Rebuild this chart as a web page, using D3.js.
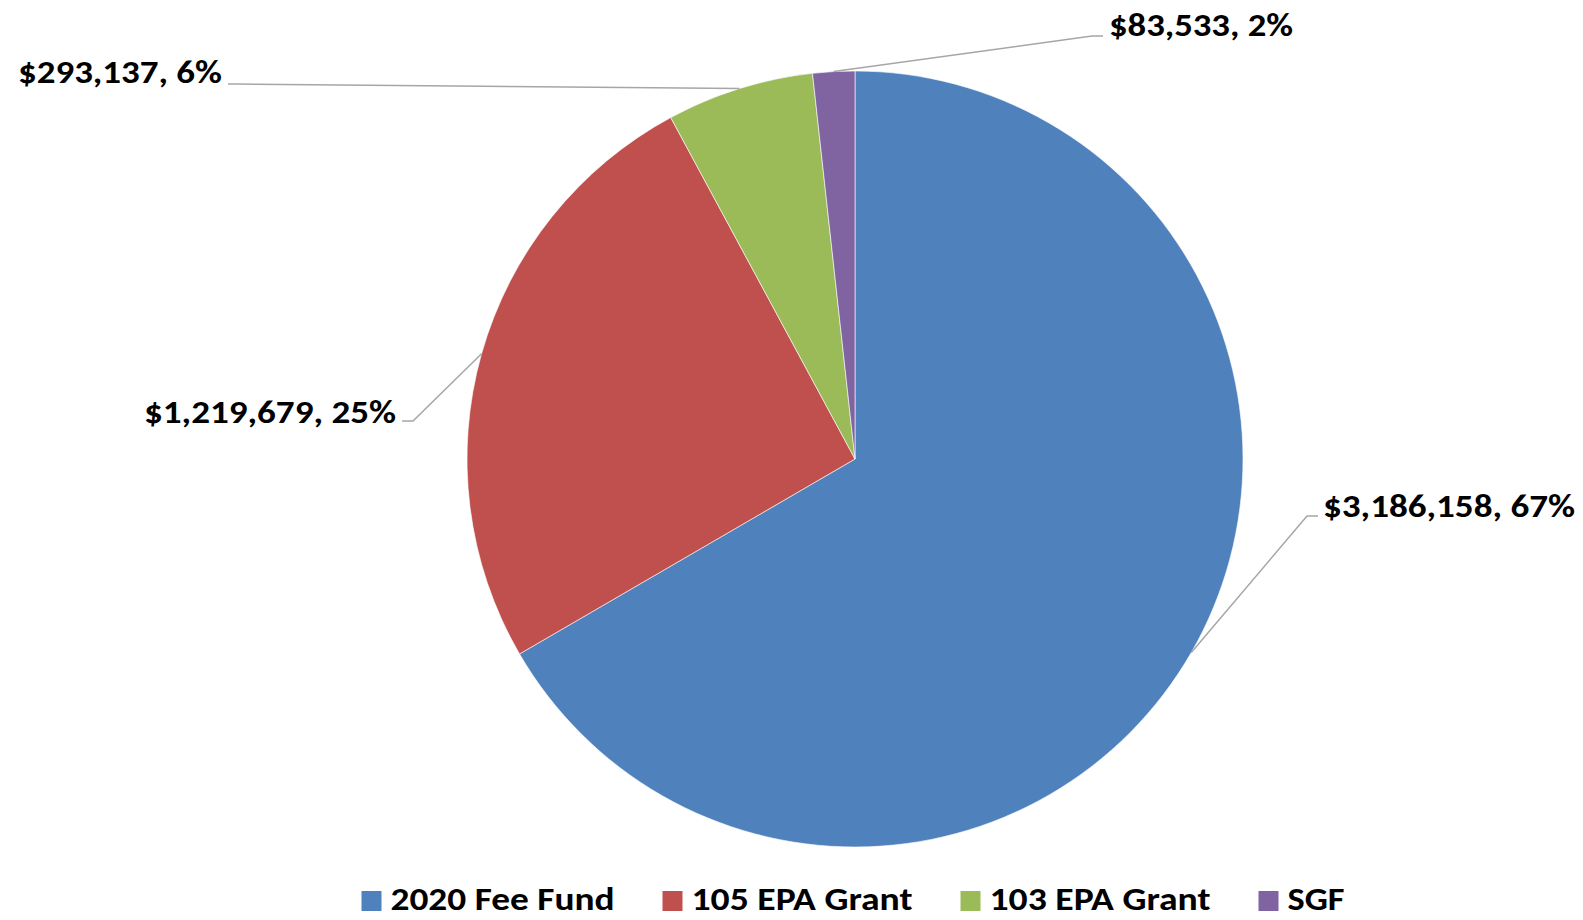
<!DOCTYPE html>
<html>
<head>
<meta charset="utf-8">
<script src="https://cdn.jsdelivr.net/npm/d3@7"></script>
<style>
  html, body { margin: 0; padding: 0; background: #ffffff; }
  svg { display: block; }
  text { font-family: Carlito, Lato, "Open Sans", sans-serif; font-weight: 700; fill: #000; }
</style>
</head>
<body>
<svg id="chart" width="1583" height="920"></svg>
<script>
// ---- data ----
const categories = ["2020 Fee Fund", "105 EPA Grant", "103 EPA Grant", "SGF"];
const values = [3186158, 1219679, 293137, 83533];
const labels = ["$3,186,158, 67%", "$1,219,679, 25%", "$293,137, 6%", "$83,533, 2%"];
const colors = ["#4F81BD", "#C0504D", "#9BBB59", "#8064A2"];

// ---- layout ----
const W = 1583, H = 920;
const cx = 855, cy = 459, R = 388;
const fontSize = 32;
// label anchor: where leader line meets label (x,y), text anchor side, text baseline
const labelLayout = [
  { lx: 1318, ly: 516, side: "start", tx: 1323, ty: 517, tw: 252 },
  { lx: 402,  ly: 421, side: "end",   tx: 396,  ty: 423, tw: 252 },
  { lx: 228,  ly: 84,  side: "end",   tx: 222,  ty: 83,  tw: 204 },
  { lx: 1103, ly: 36,  side: "start", tx: 1109, ty: 36,  tw: 184 }
];
const legendWidths = [224, 221, 221, 57];

const svg = d3.select("#chart");

const pie = d3.pie().sort(null).value(d => d)
  .startAngle(0).endAngle(2 * Math.PI);
const arcs = pie(values);
const arc = d3.arc().innerRadius(0).outerRadius(R);
const edgeArc = d3.arc().innerRadius(R).outerRadius(R);

const g = svg.append("g").attr("transform", `translate(${cx},${cy})`);
g.selectAll("path.slice").data(arcs).enter().append("path")
  .attr("class", "slice")
  .attr("d", arc)
  .attr("fill", (d, i) => colors[i])
  .attr("stroke", "#ffffff")
  .attr("stroke-opacity", 0.6)
  .attr("stroke-width", 1);

// leader lines
arcs.forEach((d, i) => {
  const [ex, ey] = edgeArc.centroid(d);
  const px = cx + ex, py = cy + ey;
  const L = labelLayout[i];
  const stub = L.side === "start" ? -11 : 11;
  const pts = [[L.lx, L.ly], [L.lx + stub, L.ly], [px, py]];
  svg.append("path")
    .attr("d", d3.line()(pts))
    .attr("fill", "none")
    .attr("stroke", "#A6A6A6")
    .attr("stroke-width", 1.5);
});

// data labels
labels.forEach((t, i) => {
  const L = labelLayout[i];
  svg.append("text")
    .attr("x", L.tx).attr("y", L.ty)
    .attr("text-anchor", L.side)
    .attr("font-size", fontSize)
    .attr("textLength", L.tw)
    .attr("lengthAdjust", "spacingAndGlyphs")
    .text(t);
});

// legend
const legendY = 910; // baseline
const sq = 20, gapSqText = 9, gapItems = 48;
const total = legendWidths.reduce((a, w) => a + sq + gapSqText + w, 0) + gapItems * (categories.length - 1);
let x = 853 - total / 2;
categories.forEach((c, i) => {
  svg.append("rect")
    .attr("x", x).attr("y", legendY - sq + 1)
    .attr("width", sq).attr("height", sq)
    .attr("fill", colors[i]);
  svg.append("text")
    .attr("x", x + sq + gapSqText).attr("y", legendY)
    .attr("font-size", fontSize)
    .attr("textLength", legendWidths[i])
    .attr("lengthAdjust", "spacingAndGlyphs")
    .text(c);
  x += sq + gapSqText + legendWidths[i] + gapItems;
});
</script>
</body>
</html>
